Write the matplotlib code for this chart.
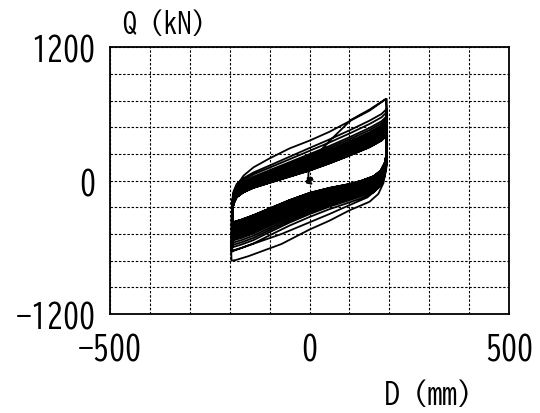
import matplotlib
matplotlib.use("Agg")
import matplotlib.pyplot as plt
import numpy as np

plt.rcParams["font.family"] = ["BIZ UDGothic", "IPAGothic", "DejaVu Sans"]

# initial settling near the origin and first (virgin) loading
init_d = [0, 6, -7, 5, -5, 8, -8, 3, 0, -3, -2, 0, 10, 30, 55, 105, 150, 191]
init_q = [0, 25, -18, -28, 22, 8, -6, 30, -5, 40, 90, 120, 190, 280, 375, 550, 640, 735]

# first full cycle (outermost loop)
outer_lower1_d = [191, 193, 193, 192, 190, 185, 172, 150, 101, 50, 0, -70, -153, -185, -195]
outer_lower1_q = [735, 600, 350, 200, 100, -20, -120, -190, -265, -360, -440, -570, -680, -715, -720]
outer_upper_d = [-195, -196, -195, -190, -182, -165, -140, -100, -50, 0, 50, 100, 150, 191]
outer_upper_q = [-720, -600, -320, -165, -45, 45, 120, 200, 290, 360, 440, 535, 630, 735]
outer_lower2_d = [193, 193, 190, 183, 170, 145, 100, 50, 0, -70, -150, -185, -195]
outer_lower2_q = [735, 250, 120, 20, -70, -150, -220, -300, -375, -480, -580, -625, -640]

# innermost (last) cycle, upper branch left -> right
band_up_d = [-193, -190, -182, -165, -140, -100, -50, 0, 50, 100, 150, 180, 193]
band_up_q = [-280, -210, -150, -105, -65, -20, 35, 90, 155, 225, 300, 360, 405]
band_up_w = [0.45, 0.47, 0.5, 0.53, 0.58, 0.65, 0.75, 0.85, 0.9, 0.95, 1.0, 1.0, 1.0]
# innermost (last) cycle, lower branch right -> left
band_lo_d = [193, 192, 188, 178, 160, 130, 100, 50, 0, -50, -100, -140, -170, -193]
band_lo_q = [300, 230, 160, 90, 40, 0, -30, -65, -110, -175, -250, -310, -350, -375]
band_lo_w = [0.45, 0.47, 0.5, 0.53, 0.58, 0.62, 0.65, 0.75, 0.85, 0.9, 0.95, 1.0, 1.0, 1.0]

# strength gain of each following cycle over the last one (kN)
upper_gain = [240, 210, 175, 155, 135, 128, 121, 114, 108, 102, 96, 90, 84, 78, 72, 66,
              60, 55, 50, 45, 40, 35, 30, 26, 22, 18, 14, 10, 7, 4, 2, 0]
lower_gain = [255, 225, 205, 185, 165, 158, 150, 142, 134, 126, 118, 110, 102, 95, 88, 81,
              74, 67, 60, 53, 46, 40, 34, 28, 23, 18, 13, 9, 6, 3, 1, 0]

d_all = init_d + outer_lower1_d + outer_upper_d + outer_lower2_d
q_all = init_q + outer_lower1_q + outer_upper_q + outer_lower2_q

up_q = np.array(band_up_q)
lo_q = np.array(band_lo_q)
for gu, gl in zip(upper_gain, lower_gain):
    d_all += band_up_d + band_lo_d
    q_all += list(up_q + gu * np.array(band_up_w)) + list(lo_q - gl * np.array(band_lo_w))

fig = plt.figure(figsize=(5.4, 4.14), dpi=100)
ax = fig.add_axes([0.2028, 0.2391, 0.7407, 0.6442])

ax.plot(d_all, q_all, color="black", lw=1.3, solid_joinstyle="round")

ax.set_xlim(-500, 500)
ax.set_ylim(-1200, 1200)
ax.set_xticks([-500, 0, 500])
ax.set_yticks([-1200, 0, 1200])
ax.set_xticks(np.arange(-500, 501, 100), minor=True)
ax.set_yticks(np.arange(-1200, 1201, 240), minor=True)
ax.grid(True, which="both", color="black", linestyle=(0, (2.2, 1.6)), linewidth=0.8)
ax.tick_params(which="both", length=0)
ax.tick_params(axis="x", labelsize=23, pad=13)
ax.tick_params(axis="y", labelsize=23, pad=10)
for s in ax.spines.values():
    s.set_linewidth(1.3)

fig.text(122 / 540, 1 - 33 / 414, "Q（kN）", fontsize=20, va="baseline", ha="left")
fig.text(385 / 540, 1 - 404 / 414, "D（mm）", fontsize=21, va="baseline", ha="left")

fig.savefig("out.png", dpi=100)
